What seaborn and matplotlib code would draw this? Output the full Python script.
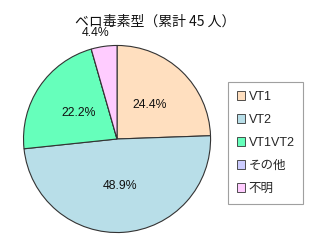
import matplotlib
matplotlib.use("Agg")
import matplotlib.pyplot as plt
import seaborn as sns

# data
categories = ["VT1", "VT2", "VT1VT2", "その他", "不明"]
counts = [11, 22, 10, 0, 2]
total = 45
colors = ["#FFDFBF", "#B8DEE8", "#66FFBB", "#CCCCFF", "#FFCCFF"]
title = "ベロ毒素型（累計 45 人）"


def fmt_pct(p):
    return "" if p < 0.05 else f"{p:.1f}%"


def main():
    sns.set_theme(style="white")
    plt.rcParams["font.family"] = ["Liberation Sans", "Noto Sans CJK JP", "DejaVu Sans"]

    fig = plt.figure(figsize=(3.2, 2.5), dpi=100)
    fig.patch.set_facecolor("white")
    ax = fig.add_axes([0.072, 0.068, 0.5875, 0.752])

    wedges, texts, autotexts = ax.pie(
        counts, colors=colors, startangle=90, counterclock=False,
        autopct=fmt_pct, pctdistance=0.5,
        wedgeprops={"edgecolor": "#333333", "linewidth": 0.8},
        textprops={"fontsize": 8.8, "color": "#111111"},
    )
    ax.set_aspect("auto")
    ax.set_xlim(-1.005, 1.005)
    ax.set_ylim(-1.005, 1.005)

    # small slice: put the label outside the pie
    for w, t, c in zip(wedges, autotexts, counts):
        if 0 < c / total < 0.06:
            x, y = t.get_position()
            t.set_position((x * 2.3 - 0.07, y * 2.28))

    fig.text(0.485, 0.915, title, ha="center", va="center", fontsize=10,
             family=["Noto Sans CJK JP", "DejaVu Sans"], color="#111111")

    handles = [plt.Rectangle((0, 0), 1, 1, facecolor=c, edgecolor="#333333", linewidth=0.6)
               for c in colors]
    leg = fig.legend(handles, categories, loc="upper left",
                     bbox_to_anchor=(0.7125, 0.672), fontsize=9,
                     handlelength=0.65, handleheight=0.65, handletextpad=0.3,
                     labelspacing=0.88, borderpad=0.7, borderaxespad=0,
                     fancybox=False, frameon=True)
    leg.get_frame().set_edgecolor("#888888")
    leg.get_frame().set_linewidth(0.8)
    for t in leg.get_texts():
        t.set_family(["Liberation Sans", "Noto Sans CJK JP"])

    fig.savefig("out.png", dpi=100, facecolor="white")


if __name__ == "__main__":
    main()
